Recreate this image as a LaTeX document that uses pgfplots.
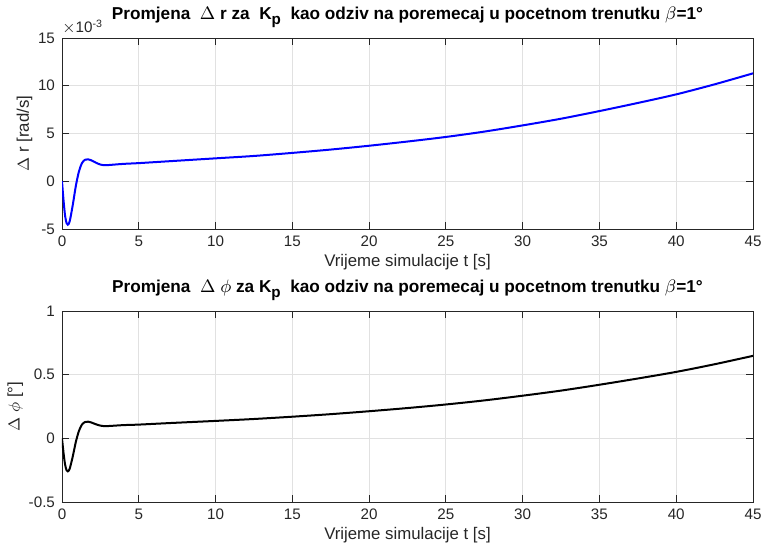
\documentclass[border=0pt]{standalone}
\usepackage{pgfplots}
\pgfplotsset{compat=1.18}
\usepackage{fontspec}
\setmainfont{Liberation Sans}
\definecolor{axgray}{RGB}{38,38,38}
\definecolor{gridgray}{RGB}{225,225,225}
\newcommand{\Kp}{K\raisebox{-0.55ex}{\fontsize{7.6}{8}\selectfont p}}
\pgfplotsset{
  myax/.style={
    scale only axis, width=345.5pt, height=95.5pt,
    xmin=0, xmax=45, xtick={0,5,...,45},
    grid=major, major grid style={gridgray, line width=0.4pt},
    axis line style={axgray, line width=0.4pt},
    tick style={axgray, line width=0.4pt},
    tick align=inside, major tick length=3.5pt,
    xtick pos=both, ytick pos=both,
    ticklabel style={font=\fontsize{7.6}{8}\selectfont, text=axgray},
    /pgf/number format/assume math mode=true,
    label style={font=\fontsize{8.4}{9}\selectfont, text=axgray},
    title style={font=\fontsize{8.6}{9}\selectfont\bfseries, yshift=-4.5pt},
    xlabel={Vrijeme simulacije t [s]},
    xlabel style={yshift=3pt},
  }
}
\begin{document}
\begin{tikzpicture}
\path[use as bounding box] (-31pt,-162.5pt) rectangle (351pt,114.5pt);
\begin{axis}[myax, at={(0,0)}, anchor=south west,
  ymin=-5, ymax=15, ytick={-5,0,5,10,15},
  ylabel={$\Delta$ r [rad/s]},
  ylabel style={yshift=-4pt},
  title={Promjena \ $\Delta$ r za \ \Kp{} \ kao odziv na poremecaj u pocetnom trenutku $\beta$=1°},
  after end axis/.code={
    \node[anchor=south west, font=\fontsize{7.6}{8}\selectfont, text=axgray, inner sep=0pt, yshift=1.5pt] at (rel axis cs:0,1) {$\times$10\textsuperscript{-3}};
  },
]
\addplot[blue, line width=1pt, smooth] coordinates {
(0,0) (0.1,-2.0) (0.2,-3.6) (0.3,-4.4) (0.38,-4.55) (0.5,-4.2) (0.7,-2.5)
(0.9,-0.5) (1.1,1.0) (1.3,1.9) (1.5,2.25) (1.7,2.3) (1.9,2.2) (2.2,1.95)
(2.5,1.75) (2.8,1.68) (3.2,1.72) (4,1.82) (5,1.9) (7,2.1) (10,2.4)
(12.5,2.65) (15,2.97) (17.5,3.32) (20,3.72) (22.5,4.16) (25,4.64)
(27.5,5.2) (30,5.85) (32.5,6.55) (35,7.35) (37.5,8.2) (40,9.1)
(42.5,10.15) (45,11.3)
};
\end{axis}
\begin{axis}[myax, at={(0,-136.5pt)}, anchor=south west,
  ymin=-0.5, ymax=1, ytick={-0.5,0,0.5,1},
  yticklabels={-0.5,0,0.5,1},
  ylabel={$\Delta$ $\phi$ [°]},
  ylabel style={yshift=-4pt},
  title={Promjena \ $\Delta$ $\phi$ za \Kp{} \ kao odziv na poremecaj u pocetnom trenutku $\beta$=1°},
]
\addplot[black, line width=1pt, smooth] coordinates {
(0,0) (0.1,-0.114) (0.2,-0.205) (0.3,-0.251) (0.38,-0.259) (0.5,-0.239) (0.7,-0.143)
(0.9,-0.029) (1.1,0.057) (1.3,0.108) (1.5,0.128) (1.7,0.131) (1.9,0.125) (2.2,0.111)
(2.5,0.100) (2.8,0.096) (3.2,0.098) (4,0.104) (5,0.108) (7,0.120) (10,0.137)
(12.5,0.152) (15,0.170) (17.5,0.190) (20,0.213) (22.5,0.238) (25,0.266)
(27.5,0.298) (30,0.335) (32.5,0.375) (35,0.421) (37.5,0.470) (40,0.522)
(42.5,0.582) (45,0.648)
};
\end{axis}
\end{tikzpicture}
\end{document}
